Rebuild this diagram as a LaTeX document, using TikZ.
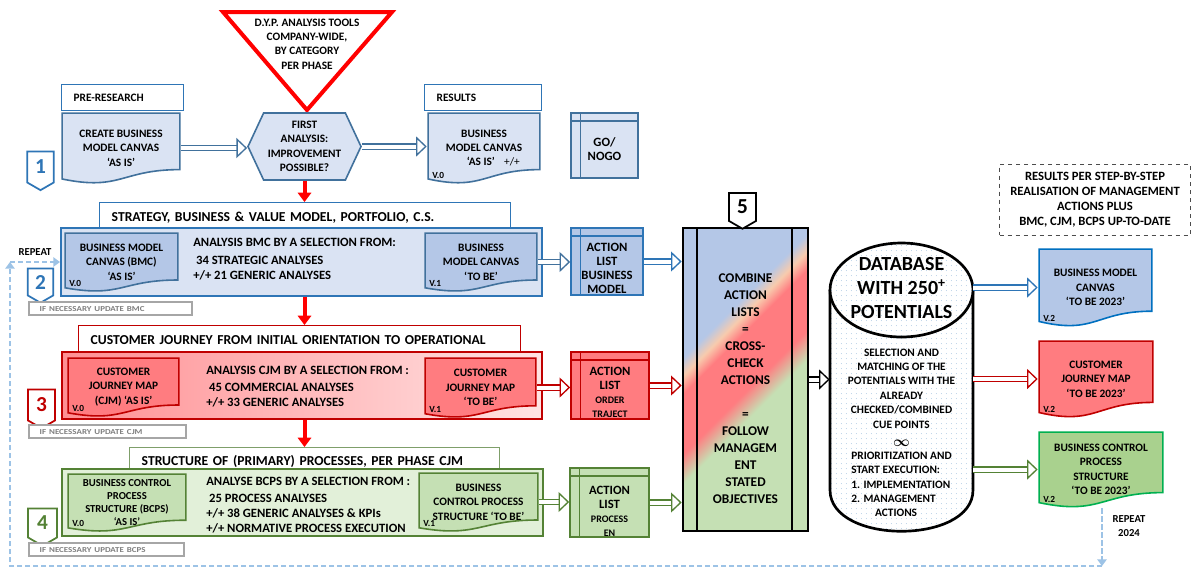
\documentclass[tikz,border=0pt]{standalone}
\usepackage{fontspec}
\setmainfont{Carlito}
\usepackage{tikz}
\usetikzlibrary{arrows.meta}
\usetikzlibrary{calc}
\usetikzlibrary{shapes.symbols}
\usetikzlibrary{patterns.meta}
\definecolor{oneline}{HTML}{41719C}
\definecolor{onefill}{HTML}{DAE3F3}
\definecolor{bmcline}{HTML}{2E75B6}
\definecolor{bmcfill}{HTML}{B4C7E7}
\definecolor{cjmline}{HTML}{C00000}
\definecolor{cjmfill}{HTML}{FF7C80}
\definecolor{cjmlight}{HTML}{FFE3E3}
\definecolor{bcpsline}{HTML}{548235}
\definecolor{bcpsfill}{HTML}{C5E0B4}
\definecolor{bcpslight}{HTML}{E2F0D9}
\definecolor{hdrgreen}{HTML}{7F9F6A}
\definecolor{newblue}{HTML}{0070C0}
\definecolor{newgreen}{HTML}{00B050}
\definecolor{newgreenfill}{HTML}{A9D18E}
\definecolor{grayline}{HTML}{A6A6A6}
\definecolor{graytext}{HTML}{7F7F7F}
\definecolor{repeatblue}{HTML}{9DC3E6}
\definecolor{peach}{HTML}{F8CBAD}
\definecolor{arrowred}{HTML}{FF0000}
\newcommand\fdoc{\fontsize{8.5}{10.8}\selectfont\bfseries}
\newcommand\fdocs{\fontsize{8}{9.8}\selectfont\bfseries}
\newcommand\fhead{\fontsize{10.25}{12}\selectfont\bfseries}
\newcommand\fband{\fontsize{9.5}{11.25}\selectfont\bfseries}
\newcommand\fact{\fontsize{9.5}{10.5}\selectfont\bfseries}
\newcommand\fsmall{\fontsize{7.5}{10.5}\selectfont\bfseries}
\newcommand\fgray{\fontsize{6.7}{8}\selectfont\bfseries}
\newcommand\fver{\fontsize{7}{7}\selectfont\bfseries}
\newcommand\frep{\fontsize{8}{11}\selectfont\bfseries}
\newcommand\fbig{\fontsize{10}{12.75}\selectfont\bfseries}
\newcommand\fdb{\fontsize{15}{18}\selectfont\bfseries}
\newcommand\fbadge{\fontsize{16}{16}\selectfont\bfseries}
\newcommand\squash[1]{\scalebox{1}[.85]{#1}}
\newcommand\actstrut{\rule{0pt}{17pt}}
\pgfdeclarehorizontalshading{combine}{100bp}{color(0bp)=(bmcfill); color(36bp)=(bmcfill); color(39bp)=(peach); color(42bp)=(cjmfill); color(52bp)=(cjmfill); color(57bp)=(bcpsfill); color(100bp)=(bcpsfill)}
\tikzset{
  hdr/.style={draw=#1, fill=white, line width=1pt, anchor=north west, align=left, inner xsep=9pt, inner ysep=0pt, font=\fhead},
  band/.style 2 args={draw=#2, fill=#1, line width=1.5pt, inner sep=0pt},
  bandtxt/.style={anchor=west, align=left, inner sep=0pt, font=\fband},
  docbox/.style 2 args={align=center, inner sep=1pt, font=\fdoc, path picture={
    \path[fill=#1, draw=#2, line width=1.2pt]
      let \p1=(path picture bounding box.north west), \p2=(path picture bounding box.south east), \n1={\y1-\y2} in
      (\x1+.8pt,\y1-.8pt) -- (\x2-.8pt,\y1-.8pt) -- (\x2-.8pt,\y2+.2*\n1)
      .. controls ({.5*\x1+.5*\x2},\y2+.2*\n1) and ({.5*\x1+.5*\x2},\y2-.1*\n1) .. (\x1+.8pt,\y2+.07*\n1) -- cycle;}},
  storebox/.style 2 args={draw=#2, fill=#1, line width=1.2pt, inner sep=0pt, align=center, font=\fact,
    path picture={
    \draw[draw=#2, line width=1.2pt] ([yshift=-6pt]path picture bounding box.north west) -- ([yshift=-6pt]path picture bounding box.north east)
      ([xshift=7pt]path picture bounding box.north west) -- ([xshift=7pt]path picture bounding box.south west);}},
  ver/.style={label={[anchor=south west, font=\fver, inner sep=1pt, xshift=3pt, yshift=3pt]south west:#1}},
  badge/.style={signal, signal to=south, signal from=nowhere, signal pointer angle=120, draw=#1, text=#1, fill=white, line width=1.3pt, inner sep=0pt, font=\fbadge},
  graybox/.style={draw=grayline, line width=1.5pt, fill=white, text=graytext, anchor=north west, align=left, inner xsep=8pt, inner ysep=0pt, minimum height=10pt, font=\fgray},
  redarrow/.style={draw=arrowred, line width=3pt, -{Triangle[width=10pt,length=7pt]}},
  hollow/.style={draw=#1, double=white, double distance=3pt, line width=1pt, -{Triangle[open,width=15pt,length=8pt,line width=1pt]}},
  repeatline/.style={draw=repeatblue, line width=1.5pt, dash pattern=on 4pt off 2pt, -{Triangle[width=7pt,length=5pt]}},
  dbline/.style={draw=black, line width=2pt, preaction={fill=white}, pattern={Dots[distance=4pt,radius=.35pt]}, pattern color=bmcline!50},
}

\begin{document}
\begin{tikzpicture}[x=.75pt,y=-.75pt]
	\fill[white] (0,0) rectangle (1192,569);
	\useasboundingbox (0,0) rectangle (1192,569);
	% row 1
	\draw[arrowred, line width=3pt, line join=miter, fill=white] (223,12) -- (392,12) -- (307,110) -- cycle;
	\node[font=\fdoc, align=center] (tools) at (307,44) {D.Y.P. ANALYSIS TOOLS\\COMPANY-WIDE,\\BY CATEGORY\\PER PHASE};
	\node[hdr=bmcline, font=\fdoc, text width=73.5pt, minimum height=19.5pt] (pre) at (61,84) {PRE-RESEARCH};
	\node[docbox={onefill}{oneline}, minimum width=90pt, minimum height=54pt] (create) at (121,148) {CREATE BUSINESS\\MODEL CANVAS\\`AS IS'};
	\node[badge=bmcline, minimum width=20pt, minimum height=25.5pt] (one) at (40.5,167) {1};
	\node[signal, signal to=west and east, signal from=nowhere, signal pointer angle=130, draw=oneline, fill=onefill, line width=1.2pt, align=center, font=\fdoc, inner sep=0pt, minimum width=84.75pt, minimum height=50.25pt] (first) at (304.5,146.5) {FIRST\\ANALYSIS:\\IMPROVEMENT\\POSSIBLE?};
	\node[hdr=bmcline, font=\fdoc, text width=69.75pt, minimum height=19.5pt] (reshdr) at (424,84) {RESULTS};
	\node[docbox={onefill}{oneline}, ver=V.0, minimum width=85.5pt, minimum height=54pt] (res) at (484,148) {BUSINESS\\MODEL CANVAS\\\hspace*{14pt}`AS IS'\hspace{7pt}{\mdseries +/+}};
	\node[storebox={onefill}{oneline}, minimum width=50.25pt, minimum height=48.75pt] (gonogo) at (604.5,145.5) {\rule{0pt}{12pt}GO/\\NOGO};
	\node[draw=black!70, dashed, align=center, font=\fband, minimum width=143pt, minimum height=53.25pt] (summary) at (1095,199.5) {RESULTS PER STEP-BY-STEP\\REALISATION OF MANAGEMENT\\ACTIONS PLUS\\BMC, CJM, BCPS UP-TO-DATE};
	%
	\draw[hollow=oneline] (create.east) -- (create.east -| first.west);
	\draw[hollow=oneline] (first.east) -- (first.east -| res.west);
	% row 2
	\node[hdr=bmcline, text width=290.25pt, minimum height=22.5pt] (strat) at (99,202) {STRATEGY, BUSINESS \& VALUE MODEL, PORTFOLIO, C.S.};
	\node[band={onefill}{bmcline}, minimum width=360.75pt, minimum height=51pt] (band2) at (301.5,262) {};
	\node[docbox={bmcfill}{oneline}, ver=V.0, minimum width=86.25pt, minimum height=45pt] (bmc0) at (121.5,262) {BUSINESS MODEL\\CANVAS (BMC)\\`AS IS'};
	\node[bandtxt] (bmctxt) at (193,259) {ANALYSIS BMC BY A SELECTION FROM:\\[2pt]\ 34 STRATEGIC ANALYSES\\+/+ 21 GENERIC ANALYSES};
	\node[docbox={bmcfill}{oneline}, ver=V.1, minimum width=85.5pt, minimum height=45pt] (bmc1) at (481,262) {BUSINESS\\MODEL CANVAS\\`TO BE'};
	\node[storebox={bmcfill}{bmcline}, minimum width=54pt, minimum height=50.25pt] (act2) at (607,261.5) {\actstrut ACTION\\LIST\\BUSINESS\\MODEL};
	\node[badge=bmcline, minimum width=19pt, minimum height=22.5pt] (two) at (40.5,282) {2};
	\node[font=\frep] (rep) at (35,252) {REPEAT};
	\node[graybox, text width=106.25pt] (upd2) at (28,301) {\squash{IF NECESSARY UPDATE BMC}};
	%
	\draw[hollow=oneline] (bmc1.east) -- (bmc1.east -| act2.west);
	% row 3
	\node[hdr=cjmline, text width=313.5pt, minimum height=21pt] (cjmhdr) at (78,325) {CUSTOMER JOURNEY FROM INITIAL ORIENTATION TO OPERATIONAL};
	\node[band={cjmfill}{cjmline}, left color=cjmfill!85!white, right color=cjmlight, minimum width=360pt, minimum height=50.25pt] (band3) at (302,385.5) {};
	\node[docbox={cjmfill}{cjmline}, ver=V.0, minimum width=84.75pt, minimum height=45pt] (cjm0) at (123.5,387) {CUSTOMER\\JOURNEY MAP\\(CJM) `AS IS'};
	\node[bandtxt] (cjmtxt) at (206,386.5) {ANALYSIS CJM BY A SELECTION FROM :\\[2pt]\ 45 COMMERCIAL ANALYSES\\+/+ 33 GENERIC ANALYSES};
	\node[docbox={cjmfill}{cjmline}, ver=V.1, minimum width=84.75pt, minimum height=45.75pt] (cjm1) at (480.5,387.5) {CUSTOMER\\JOURNEY MAP\\`TO BE'};
	\node[storebox={cjmfill}{cjmline}, minimum width=58.5pt, minimum height=50.25pt] (act3) at (610,385.5) {\actstrut ACTION\\LIST\\{\fsmall ORDER}\\{\fsmall TRAJECT}};
	\node[badge=cjmline, minimum width=20.25pt, minimum height=25.5pt] (three) at (41.5,405) {3};
	\node[graybox, text width=101.75pt] (upd3) at (28,424) {\squash{IF NECESSARY UPDATE CJM}};
	%
	\draw[hollow=cjmline] (cjm1.east) -- (cjm1.east -| act3.west);
	% row 4
	\node[hdr=hdrgreen, text width=259.5pt, minimum height=20.25pt] (bcpshdr) at (129,447) {STRUCTURE OF (PRIMARY) PROCESSES, PER PHASE CJM};
	\node[band={bcpslight}{bcpsline}, minimum width=360.75pt, minimum height=50.25pt] (band4) at (302.5,502.5) {};
	\node[docbox={bcpsfill}{bcpsline}, ver=V.0, font=\fdocs, minimum width=90pt, minimum height=44.25pt] (bcps0) at (127,502.5) {BUSINESS CONTROL\\PROCESS\\STRUCTURE (BCPS)\\`AS IS'};
	\node[bandtxt] (bcpstxt) at (206,505) {ANALYSE BCPS BY A SELECTION FROM :\\[2pt]\ 25 PROCESS ANALYSES\\+/+ 38 GENERIC ANALYSES \& KPIs\\+/+ NORMATIVE PROCESS EXECUTION};
	\node[docbox={bcpsfill}{bcpsline}, ver=V.1, minimum width=90.75pt, minimum height=45pt] (bcps1) at (478.5,502) {BUSINESS\\CONTROL PROCESS\\STRUCTURE `TO BE'};
	\node[storebox={bcpsfill}{bcpsline}, minimum width=59.25pt, minimum height=51.75pt] (act4) at (609.5,502.5) {\rule{0pt}{20pt}ACTION\\LIST\\{\fsmall PROCESS}\\{\fsmall EN}};
	\node[badge=bcpsline, minimum width=21.75pt, minimum height=24pt] (four) at (42.5,523) {4};
	\node[graybox, text width=100.25pt] (upd4) at (28,542) {\squash{IF NECESSARY UPDATE BCPS}};
	%
	\draw[hollow=bcpsline] (bcps1.east) -- (bcps1.east -| act4.west);
	% red flow
	\draw[redarrow] (first.south) -- (first.south |- strat.north);
	\draw[redarrow] (band2.south -| first.south) -- (first.south |- cjmhdr.north);
	\draw[redarrow] (band3.south -| first.south) -- (first.south |- bcpshdr.north);
	% combine
	\node[shade, shading=combine, shading angle=-45, draw=black, line width=2pt, align=center, font=\fbig, minimum width=93.75pt, minimum height=227.25pt, path picture={
		\draw[black, line width=1.5pt] ([xshift=10.5pt]path picture bounding box.north west) -- ([xshift=10.5pt]path picture bounding box.south west)
			([xshift=-12pt]path picture bounding box.north east) -- ([xshift=-12pt]path picture bounding box.south east);}] (box5) at (745.5,379.5)
		{\rule{0pt}{20pt}COMBINE\\ACTION\\LISTS\\=\\CROSS-\\CHECK\\ACTIONS\\[12.75pt]=\\FOLLOW\\MANAGEM\\ENT\\STATED\\OBJECTIVES};
	\node[badge=black, minimum width=20.25pt, minimum height=23.25pt] (five) at (742.5,207) {5};
	%
	\draw[hollow=bmcline] (act2.east) -- (act2.east -| box5.west);
	\draw[hollow=cjmline] (act3.east) -- (act3.east -| box5.west);
	\draw[hollow=bcpsline] (act4.east) -- (act4.east -| box5.west);
	% database
	\draw[dbline] (830,290) -- (830,490) .. controls (830,545) and (973,545) .. (973,490) -- (973,290);
	\draw[dbline] (901.5,290) ellipse [x radius=71.5, y radius=47];
	\node[font=\fdb, align=center, inner sep=0pt] (dbtitle) at (901.5,288) {DATABASE\\WITH 250\textsuperscript{+}\\POTENTIALS};
	\node[font=\fdoc, align=center, inner sep=0pt, minimum width=107.25pt] (dbbody) at (901.5,435) {SELECTION AND\\MATCHING OF THE\\POTENTIALS WITH THE\\ALREADY\\CHECKED/COMBINED\\CUE POINTS\\[3pt]{\fontsize{11}{8}\selectfont\boldmath$\infty$}\\[1pt]
		\begin{tabular}{@{}l@{}}PRIORITIZATION AND\\START EXECUTION:\\1. IMPLEMENTATION\\2. MANAGEMENT\\\hspace*{2.1em}ACTIONS\end{tabular}};
	\draw[hollow=black] (box5.east) -- (box5.east -| dbbody.west);
	% up-to-date documents
	\node[docbox={bmcfill}{newblue}, ver=V.2, minimum width=86.25pt, minimum height=59.25pt] (bmcnew) at (1095.5,287.5) {BUSINESS MODEL\\CANVAS\\`TO BE 2023'};
	\node[docbox={cjmfill}{cjmline}, ver=V.2, minimum width=87pt, minimum height=58.5pt] (cjmnew) at (1096,379) {CUSTOMER\\JOURNEY MAP\\`TO BE 2023'};
	\node[docbox={newgreenfill}{newgreen}, ver=V.2, minimum width=94.5pt, minimum height=57.75pt] (bcpsnew) at (1101,469.5) {BUSINESS CONTROL\\PROCESS\\STRUCTURE\\`TO BE 2023'};
	\draw[hollow=bmcline] (dbbody.east |- bmcnew.west) -- (bmcnew.west);
	\draw[hollow=cjmline] (dbbody.east |- cjmnew.west) -- (cjmnew.west);
	\draw[hollow=bcpsline] (dbbody.east |- bcpsnew.west) -- (bcpsnew.west);
	% repeat loop
	\node[font=\frep, align=center] (rep24) at (1129,526) {REPEAT\\2024};
	\coordinate (loopa) at (1102,566);
	\coordinate (loopb) at (10,566);
	\coordinate (loopc) at (10,262);
	\draw[repeatline] (bcpsnew.south -| loopa) -- (loopa);
	\draw[repeatline] (loopa) -- (loopb) -- (loopc);
	\draw[repeatline] (loopc) -- (loopc -| band2.west);
\end{tikzpicture}
\end{document}
